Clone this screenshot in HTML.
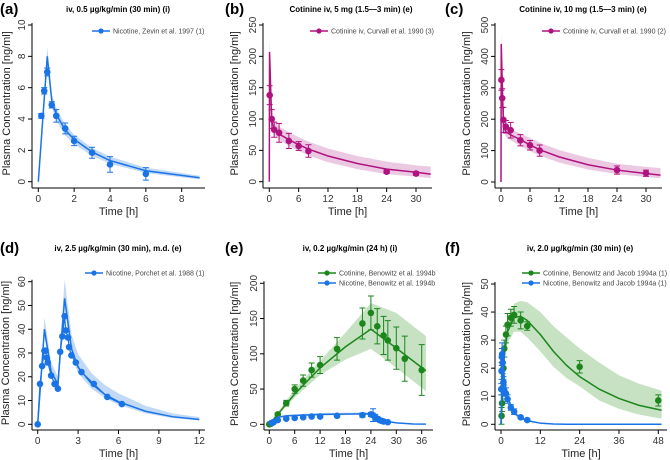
<!DOCTYPE html>
<html><head><meta charset="utf-8">
<style>
html,body{margin:0;padding:0;background:#fff;}
svg{display:block;font-family:"Liberation Sans",Arial,sans-serif;}
</style></head>
<body>
<svg id="c" width="670" height="460" viewBox="0 0 670 460"></svg>
<script>
// ---------- DATA ----------
// (a)
const aObsT=[0.17,0.33,0.5,0.75,1,1.5,2,3,4,6];
const aObsY=[4.2,5.8,7.0,4.9,4.2,3.4,2.6,1.85,1.1,0.5];
const aObsE=[0.15,0.2,0.25,0.2,0.4,0.35,0.3,0.35,0.5,0.4];
const aModT=[0,0.5,0.75,1,1.5,2,3,4,6,9];
const aModY=[0,8,5.2,4.3,3.3,2.7,1.9,1.35,0.7,0.25];
const aModLo=[0,7.3,4.8,3.9,2.95,2.4,1.65,1.15,0.55,0.15];
const aModHi=[0,8.6,5.6,4.7,3.65,3.0,2.15,1.6,0.9,0.38];
// (b)
const bObsT=[0.08,0.5,1,2,4,6,8,24,30];
const bObsY=[138,100,83,78,65,57,49,16,13];
const bObsE=[15,15,12,15,12,7,10,3,3];
const bModT=[0,0.05,0.5,1,2,4,6,8,12,18,24,30,33];
const bModY=[0,207,95,85,76,67,59,52,41,29,20,15,12];
const bModLo=[0,185,85,75,67,57,49,42,31,20,12,8,6];
const bModHi=[0,230,108,97,88,79,71,64,53,41,32,26,24];
// (c)
const cObsT=[0.08,0.25,0.5,1,2,4,6,8,24,30];
const cObsY=[325,267,198,176,165,133,117,100,38,28];
const cObsE=[33,30,40,20,25,18,15,18,13,10];
const cModT=[0,0.05,0.5,1,2,4,6,8,12,18,24,30,33];
const cModY=[0,440,180,160,150,135,118,103,80,55,38,27,22];
const cModLo=[0,400,160,145,133,115,98,84,62,40,25,16,12];
const cModHi=[0,480,205,180,168,155,140,125,102,77,58,48,44];
// (d)
const dObsT=[0,0.17,0.33,0.5,0.58,0.67,0.75,1,1.25,1.5,1.67,1.83,2,2.08,2.25,2.33,2.5,2.83,3.25,4.17,5.17,6.25];
const dObsY=[0,17,24.5,31,31,28,26,20.5,17,15,30.5,37,45.5,39.5,36.5,32.5,29,26,22,17,11.5,8.5];
const dModT=[0,0.5,1,1.5,2,2.5,3,4,5,6,8,10,12];
const dModY=[0,40,22,17,53,32,24,17,12.5,9.5,5.5,3.2,2];
const dModLo=[0,37,20,15.5,49,29,21.5,15,11,8.2,4.6,2.6,1.6];
const dModHi=[0,45,26,20,61,38,29.5,21.5,16.5,13,7.8,4.6,3];
// (e) cotinine
const eCotT=[0,0.5,1,2,4,6,8,10,12,16,22,24,25.5,27,28,30,32,36];
const eCotY=[0,1,3,14,30,50,62,77,84,107,143,158,139,126,119,108,93,77];
const eCotE=[1,1,1,2,4,6,8,10,12,16,22,24,25,27,28,30,32,36];
const eCotModT=[0,6,12,18,24,30,37];
const eCotModY=[0,43,80,110,135,108,76];
const eCotModLo=[0,38,70,92,107,80,47];
const eCotModHi=[0,50,90,130,172,158,125];
// (e) nicotine
const eNicT=[0.5,1,2,4,6,8,10,12,16,22,24,24.5,25,25.5,26,26.5,27,28];
const eNicY=[2,3,6,8,9,10,11,11,12,13,14,13,10,8,6,5,4,3];
const eNicE=[1,1,1,1,1,1,1,1,2,3,3,9,4,3,2,2,1,1];
const eNicModT=[0,2,4,12,24,25,26,28,30,34,37];
const eNicModY=[0,10,12,14,15,10,7,4,2,0.5,0.2];
const eNicModLo=[0,9,11,12.5,13.5,9,6,3.4,1.6,0.3,0.1];
const eNicModHi=[0,11,13.5,16,17,11.5,8,4.8,2.5,0.8,0.3];
// (f) cotinine
const fCotT=[0.17,0.33,0.5,0.75,1,1.5,2,3,4,6,8,24,48];
const fCotY=[3,7.5,13,20,27,32,35.5,38,39,37,35,20.5,8.5];
const fCotE=[3,3,5,4,3,3,4,3,3,3,1.5,2.2,2];
const fCotModT=[0,1,2,4,6,8,12,16,20,24,30,36,42,49];
const fCotModY=[0,25,33,38,38.5,37,32,26,21,17,12.5,9.2,6.8,5];
const fCotModLo=[0,22,29,33,33,31,26,20.5,16.5,13.5,8.5,5.5,3.5,2];
const fCotModHi=[0,28,37,43,44,43.5,40,35,31,27,22,17.5,14.5,12];
// (f) nicotine
const fNicT=[0.08,0.17,0.25,0.33,0.5,0.75,1,1.5,2,3,4,6,8];
const fNicY=[12.5,19,24,25,22,15,12,11,9,6,4.5,2.5,1.5];
const fNicE=[2,3,3,4,3,2,2,2,1.5,1,1,0.5,0.3];
const fNicModT=[0,0.5,1,2,4,6,8,12,16,20,49];
const fNicModY=[0,28,16,9.5,4,2.3,1.3,0.4,0.1,0,0];
const fNicModLo=[0,24,14,8.2,3.3,1.8,1,0.25,0.05,0,0];
const fNicModHi=[0,33,19,11,4.8,2.8,1.7,0.6,0.2,0.05,0.05];
// ticks
const aXTicks=[0,2,4,6,8], aYTicks=[0,2,4,6,8,10];
const bXTicks=[0,6,12,18,24,30], bYTicks=[0,50,100,150,200,250];
const cXTicks=[0,6,12,18,24,30], cYTicks=[0,100,200,300,400,500];
const dXTicks=[0,3,6,9,12], dYTicks=[0,10,20,30,40,50,60];
const eXTicks=[0,6,12,18,24,30,36], eYTicks=[0,50,100,150,200];
const fXTicks=[0,12,24,36,48], fYTicks=[0,10,20,30,40,50];

const BLUE='#1a74e6', BLUEB='#c2d9f5', PURP='#b0127f', PURPB='#ebc9e3', GRN='#1c861c', GRNB='#c6e2c3';
const NS='http://www.w3.org/2000/svg';
const svg=document.getElementById('c');
function el(tag,attrs,parent){const e=document.createElementNS(NS,tag);for(const k in attrs)e.setAttribute(k,attrs[k]);(parent||svg).appendChild(e);return e;}

function panel(p){
  const g=el('g',{});
  
  
  const sx=v=>p.px0+(v-p.xmin)/(p.xmax-p.xmin)*(p.px1-p.px0);
  const sy=v=>p.py0+(v-p.ymin)/(p.ymax-p.ymin)*(p.py1-p.py0);
  let t=el('text',{x:p.lx,y:p.ly,'font-size':15,'font-weight':'bold',fill:'#000'},g);t.textContent='('+p.id+')';
  
  t=el('text',{x:p.tx,y:p.ly-2,'font-size':8,'font-weight':'bold','text-anchor':'middle',fill:'#000'},g);t.textContent=p.title;
  
  const ax=el('g',{stroke:'#000','stroke-width':1,fill:'none'},g);
  
  el('line',{x1:p.axX,y1:sy(p.yTicks[p.yTicks.length-1])-2,x2:p.axX,y2:p.axY},ax);
  el('line',{x1:p.axX,y1:p.axY,x2:p.axR,y2:p.axY},ax);
  p.yTicks.forEach(v=>{
    el('line',{x1:p.axX-4,y1:sy(v),x2:p.axX,y2:sy(v)},ax);
    const tt=el('text',{x:0,y:0,'font-size':10,'text-anchor':'middle',fill:'#333',transform:`translate(${p.axX-7},${sy(v)}) rotate(-90)`},g);
    tt.textContent=v;
    
    
  });
  p.xTicks.forEach(v=>{
    el('line',{x1:sx(v),y1:p.axY,x2:sx(v),y2:p.axY+4},ax);
    const tt=el('text',{x:sx(v),y:p.axY+14,'font-size':10,'text-anchor':'middle',fill:'#333'},g);
    tt.textContent=v;
    
    
  });
  t=el('text',{x:(p.axX+p.axR)/2,y:p.axY+27,'font-size':11,'text-anchor':'middle',fill:'#222'},g);t.textContent='Time [h]';
  
  t=el('text',{x:0,y:0,'font-size':11,'text-anchor':'middle',fill:'#222',transform:`translate(${p.ylx},${(sy(p.ymin)+sy(p.yTicks[p.yTicks.length-1]))/2}) rotate(-90)`},g);t.textContent='Plasma Concentration [ng/ml]';
  
  p.series.forEach((s,si)=>{
    const sg=el('g',{},g);
    
    
    let d='';
    s.mT.forEach((v,i)=>d+=(i?'L':'M')+sx(v)+','+sy(s.mHi[i]));
    for(let i=s.mT.length-1;i>=0;i--)d+='L'+sx(s.mT[i])+','+sy(s.mLo[i]);
    const band=el('path',{d:d+'Z',fill:s.band,stroke:'none'},sg);
    
    
    const ln=el('polyline',{points:s.mT.map((v,i)=>sx(v)+','+sy(s.mY[i])).join(' '),fill:'none',stroke:s.col,'stroke-width':1.5},sg);
    
    
    if(s.line){
      const ol=el('polyline',{points:s.oT.map((v,i)=>sx(v)+','+sy(s.oY[i])).join(' '),fill:'none',stroke:s.col,'stroke-width':1.2},sg);
      
      
    }
    s.oT.forEach((v,i)=>{
      if(s.oE){
        const e=s.oE[i],x=sx(v);
        const eb=el('path',{d:`M${x},${sy(s.oY[i]-e)}V${sy(s.oY[i]+e)}M${x-3},${sy(s.oY[i]-e)}H${x+3}M${x-3},${sy(s.oY[i]+e)}H${x+3}`,stroke:s.col,'stroke-width':1,fill:'none'},sg);
        
        
      }
      const c=el('circle',{cx:sx(v),cy:sy(s.oY[i]),r:3.3,fill:s.col},sg);
      
      
    });
    const ly=p.legY+si*10;
    const lg=el('g',{},g);
    
    
    el('line',{x1:p.legX,y1:ly,x2:p.legX+18,y2:ly,stroke:s.col,'stroke-width':1.5},lg);
    el('circle',{cx:p.legX+9,cy:ly,r:2.6,fill:s.col},lg);
    const lt=el('text',{x:p.legX+21,y:ly+2.5,'font-size':7,fill:'#444'},lg);lt.textContent=s.name;
  });
}

panel({id:'a',title:'iv, 0.5 µg/kg/min (30 min)  (i)',lx:0,ly:14,tx:118,xmin:0,xmax:8,px0:38.3,px1:181.7,ymin:0,ymax:10,py0:181.7,py1:25,
  axX:32,axY:188,axR:205,ylx:10,xTicks:aXTicks,yTicks:aYTicks,legX:92,legY:31,
  series:[{key:'nicotine',name:'Nicotine, Zevin et al. 1997 (1)',col:BLUE,band:BLUEB,oT:aObsT,oY:aObsY,oE:aObsE,mT:aModT,mY:aModY,mLo:aModLo,mHi:aModHi}]});
panel({id:'b',title:'Cotinine iv, 5 mg (1.5—3 min)  (e)',lx:225,ly:14,tx:351,xmin:0,xmax:30,px0:269.3,px1:416,ymin:0,ymax:250,py0:181.7,py1:25,
  axX:263,axY:188,axR:432,ylx:238,xTicks:bXTicks,yTicks:bYTicks,legX:310,legY:31,
  series:[{key:'cotinine',name:'Cotinine iv, Curvall et al. 1990 (3)',col:PURP,band:PURPB,oT:bObsT,oY:bObsY,oE:bObsE,mT:bModT,mY:bModY,mLo:bModLo,mHi:bModHi}]});
panel({id:'c',title:'Cotinine iv, 10 mg (1.5—3 min)  (e)',lx:445,ly:14,tx:583,xmin:0,xmax:30,px0:501,px1:646,ymin:0,ymax:500,py0:182,py1:25,
  axX:495,axY:188,axR:662,ylx:470,xTicks:cXTicks,yTicks:cYTicks,legX:542,legY:31,
  series:[{key:'cotinine',name:'Cotinine iv, Curvall et al. 1990 (2)',col:PURP,band:PURPB,oT:cObsT,oY:cObsY,oE:cObsE,mT:cModT,mY:cModY,mLo:cModLo,mHi:cModHi}]});
panel({id:'d',title:'iv, 2.5 µg/kg/min (30 min), m.d.  (e)',lx:0,ly:253,tx:118,xmin:0,xmax:12,px0:37.7,px1:199.3,ymin:0,ymax:60,py0:424.3,py1:281.7,
  axX:32,axY:430,axR:205,ylx:9,xTicks:dXTicks,yTicks:dYTicks,legX:85,legY:273,
  series:[{key:'nicotine',name:'Nicotine, Porchet et al. 1988 (1)',col:BLUE,band:BLUEB,line:true,oT:dObsT,oY:dObsY,oE:null,mT:dModT,mY:dModY,mLo:dModLo,mHi:dModHi}]});
panel({id:'e',title:'iv, 0.2 µg/kg/min (24 h)  (i)',lx:225,ly:253,tx:350,xmin:0,xmax:36,px0:269.3,px1:421.7,ymin:0,ymax:200,py0:424.3,py1:283.3,
  axX:264,axY:430,axR:433,ylx:238,xTicks:eXTicks,yTicks:eYTicks,legX:318,legY:273,
  series:[{key:'cotinine',name:'Cotinine, Benowitz et al. 1994b',col:GRN,band:GRNB,oT:eCotT,oY:eCotY,oE:eCotE,mT:eCotModT,mY:eCotModY,mLo:eCotModLo,mHi:eCotModHi},
          {key:'nicotine',name:'Nicotine, Benowitz et al. 1994b',col:BLUE,band:BLUEB,oT:eNicT,oY:eNicY,oE:eNicE,mT:eNicModT,mY:eNicModY,mLo:eNicModLo,mHi:eNicModHi}]});
panel({id:'f',title:'iv, 2.0 µg/kg/min (30 min)  (e)',lx:445,ly:253,tx:580,xmin:0,xmax:48,px0:501,px1:658.3,ymin:0,ymax:50,py0:424.3,py1:284,
  axX:495,axY:430,axR:667,ylx:470,xTicks:fXTicks,yTicks:fYTicks,legX:522,legY:273,
  series:[{key:'cotinine',name:'Cotinine, Benowitz and Jacob 1994a (1)',col:GRN,band:GRNB,oT:fCotT,oY:fCotY,oE:fCotE,mT:fCotModT,mY:fCotModY,mLo:fCotModLo,mHi:fCotModHi},
          {key:'nicotine',name:'Nicotine, Benowitz and Jacob 1994a (1)',col:BLUE,band:BLUEB,oT:fNicT,oY:fNicY,oE:fNicE,mT:fNicModT,mY:fNicModY,mLo:fNicModLo,mHi:fNicModHi}]});
</script>
</body></html>
